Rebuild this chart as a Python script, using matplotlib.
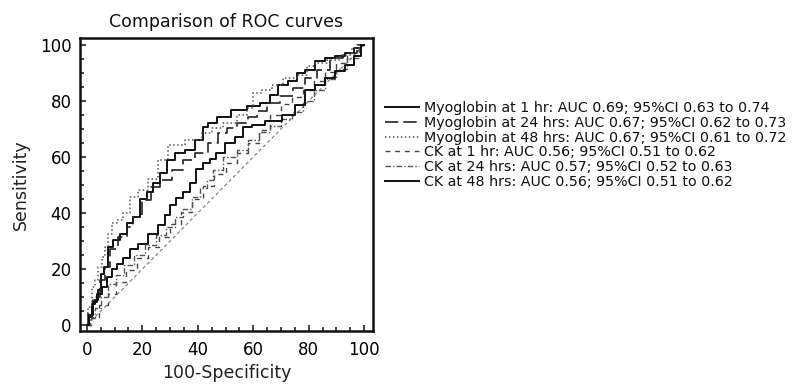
import matplotlib
matplotlib.use("Agg")
import matplotlib.pyplot as plt

# values (100-Specificity, Sensitivity)
myo1_x = [0, 1.6, 2.3, 3.4, 4.7, 5.2, 7.1, 8.3, 10.7, 13.1, 15.5, 17.9, 20.3, 22.7, 25.2,
          27.5, 30, 33.6, 37.2, 40.8, 43.2, 44.4, 49.1, 55.2, 60, 64.9, 67.3, 70.9, 74.5,
          76.9, 80.5, 84, 87.7, 91.3, 95, 97.8, 100]
myo1_y = [0, 2.9, 7.7, 8.8, 12.5, 18.2, 20.8, 28, 30.4, 32.7, 36.3, 38.7, 45, 47.5, 50.6,
          54.2, 58.9, 61.4, 62.5, 66, 70.8, 72, 74.3, 76.8, 78.2, 79.3, 82.3, 85.8, 87.1,
          90, 91.2, 94.3, 95.4, 96, 97, 98.8, 100]

myo24_x = [0, 1.1, 3.5, 5.9, 7.1, 9.5, 13.1, 15.5, 17.9, 21.5, 25.1, 27.5, 33.6, 36, 42,
           45.6, 49.2, 51.6, 56.4, 60, 62.5, 67.3, 72.1, 76.9, 80.5, 85.3, 90.1, 95, 100]
myo24_y = [0, 4.2, 10.1, 16, 20.8, 27, 31.5, 35.1, 38.7, 44.6, 49.4, 51.8, 55.4, 58.9, 61.3,
           64.9, 68.5, 70.2, 72, 74.4, 76.3, 79.3, 81.7, 84.6, 88.2, 91.2, 95.4, 97.1, 100]

myo48_x = [0, 1.1, 2.3, 3.5, 4.7, 5.9, 7.1, 8.3, 9.5, 11.9, 14.3, 16.7, 20.3, 24, 27.5,
           31.2, 39.6, 43.2, 46.8, 51.6, 56.4, 58.8, 61.3, 64.9, 68.5, 73.3, 78, 80.5,
           84.1, 88.8, 93.8, 97.4, 100]
myo48_y = [0, 6.5, 13.7, 16, 20.8, 24.4, 28, 32.7, 36.3, 37.5, 40, 45.8, 48.2, 52, 58.9,
           64.3, 66.1, 68.5, 70.2, 72, 75, 77.5, 82.9, 84, 85.8, 88.2, 89.4, 92.4,
           93.6, 94.8, 96.5, 98.9, 100]

ck1_x = [0, 3, 6, 9, 12, 16, 20, 24, 28, 32, 36, 40, 44, 48, 52, 56, 60, 64, 68, 72,
         76, 80, 84, 88, 92, 96, 100]
ck1_y = [0, 3, 7, 11, 15.5, 19.5, 24, 28, 31.5, 36, 40.5, 45, 49.5, 54, 58, 61.5, 65,
         69.5, 75, 79, 81.5, 84, 87, 90.5, 93.5, 97, 100]

ck24_x = [0, 2, 4, 6, 9, 12, 15, 19, 23, 27, 30, 33.6, 36, 39.6, 42, 44.4, 46.8, 51.6,
          56.4, 60, 64, 68, 72, 76, 80, 84, 88, 92, 96, 100]
ck24_y = [0, 2.5, 6, 10, 14.5, 18, 21.5, 25, 28.5, 32, 35, 38.7, 41.5, 45.8, 49, 51.8,
          55.4, 60.1, 62.5, 66.1, 69, 71, 73.5, 76, 80, 84, 88, 91.5, 95.5, 100]

ck48_x = [0, 1.6, 2.8, 4.6, 6.4, 8.2, 10, 11.8, 14.2, 16.6, 20.2, 23.8, 27.5, 28.7, 31.1,
          33.5, 35.9, 38.3, 40.7, 43.1, 45.5, 47.9, 51.6, 55.2, 57.7, 61.3, 67.3, 73.3,
          76.9, 80.5, 84.1, 87.7, 91.3, 95, 97.4, 100]
ck48_y = [0, 3.5, 8.2, 11.2, 13.5, 17.1, 20, 21.8, 24.1, 27.1, 28.8, 32.4, 35.9, 39.4, 42.9,
          45.3, 47.6, 50.6, 55.9, 57.7, 59.4, 61.3, 64.9, 67.3, 70.8, 71.4, 72.9, 75.1,
          78.7, 84, 85.8, 88.2, 90.7, 93, 96, 100]

diag = [0, 100]

labels = ["Myoglobin at 1 hr: AUC 0.69; 95%CI 0.63 to 0.74",
          "Myoglobin at 24 hrs: AUC 0.67; 95%CI 0.62 to 0.73",
          "Myoglobin at 48 hrs: AUC 0.67; 95%CI 0.61 to 0.72",
          "CK at 1 hr: AUC 0.56; 95%CI 0.51 to 0.62",
          "CK at 24 hrs: AUC 0.57; 95%CI 0.52 to 0.63",
          "CK at 48 hrs: AUC 0.56; 95%CI 0.51 to 0.62"]

fig = plt.figure(figsize=(8.07, 3.85), dpi=100)
ax = fig.add_axes([0.0991, 0.1403, 0.3631, 0.7610])

ax.plot(diag, diag, color="#777777", lw=0.8, dashes=(3, 2.5))

ax.plot(myo1_x, myo1_y, color="#111111", lw=1.4, drawstyle="steps-mid", label=labels[0])
ax.plot(myo24_x, myo24_y, color="#222222", lw=1.2, dashes=(8, 3),
        drawstyle="steps-mid", label=labels[1])
ax.plot(myo48_x, myo48_y, color="#555555", lw=1.1, dashes=(1, 1.6),
        drawstyle="steps-mid", label=labels[2])
ax.plot(ck1_x, ck1_y, color="#444444", lw=1.0, dashes=(3.5, 3.5),
        drawstyle="steps-mid", label=labels[3])
ax.plot(ck24_x, ck24_y, color="#555555", lw=1.0, dashes=(4, 1.5, 1, 1.5),
        drawstyle="steps-mid", label=labels[4])
ax.plot(ck48_x, ck48_y, color="#111111", lw=1.4, drawstyle="steps-mid", label=labels[5])

ax.set_xlim(-2.5, 103.2)
ax.set_ylim(-2.1, 102.5)
ax.set_xticks([0, 20, 40, 60, 80, 100])
ax.set_yticks([0, 20, 40, 60, 80, 100])
ax.set_xticks(range(0, 101, 5), minor=True)
ax.set_yticks(range(0, 101, 5), minor=True)
ax.tick_params(which="both", direction="in", top=False, right=False, width=1.1,
               color="#111111")
ax.tick_params(which="major", length=4.5, labelsize=12, pad=6)
ax.tick_params(which="minor", length=3.2)
ax.tick_params(axis="x", which="major", pad=7)
for s in ax.spines.values():
    s.set_linewidth(1.8)
    s.set_color("#111111")

ax.set_title("Comparison of ROC curves", fontsize=12.5, pad=8, color="#111111")
ax.set_xlabel("100-Specificity", fontsize=12.5, labelpad=4, color="#222222")
ax.set_ylabel("Sensitivity", fontsize=12.5, labelpad=7, color="#222222")

fig.legend(loc="upper left", bbox_to_anchor=(0.477, 0.737), frameon=False,
           fontsize=10.3, borderpad=0, borderaxespad=0, handlelength=2.4,
           handletextpad=0.35, labelspacing=0.05, labelcolor="#111111")

fig.savefig("out.png", dpi=100)
